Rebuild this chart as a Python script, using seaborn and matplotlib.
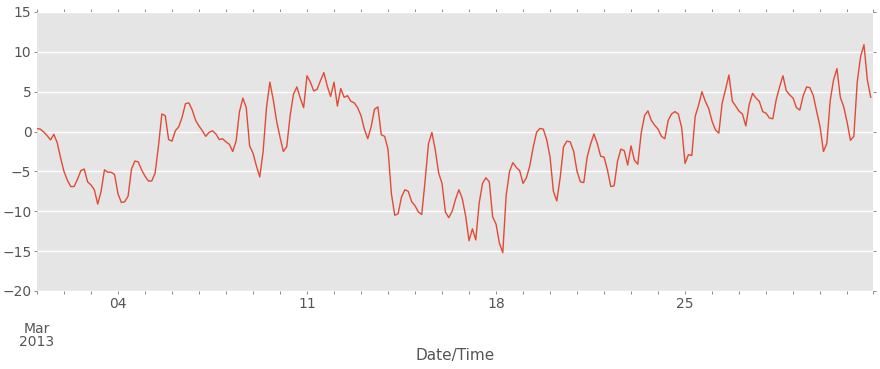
import pandas as pd
import matplotlib
matplotlib.use("Agg")
import matplotlib.pyplot as plt
import matplotlib.dates as mdates
import matplotlib.ticker as mticker
import seaborn as sns

# 3-hourly readings, 2013-03-01 00:00 onwards
start = "2013-03-01 00:00"
freq = "3h"
values = [
    0.38, 0.3, -0.05, -0.5, -1.05, -0.35, -1.4, -3.3, -5.0, -6.1,
    -6.9, -6.9, -6.0, -4.9, -4.7, -6.3, -6.7, -7.3, -9.1, -7.5,
    -4.8, -5.1, -5.1, -5.4, -7.8, -8.9, -8.8, -8.1, -4.7, -3.7,
    -3.8, -4.8, -5.6, -6.2, -6.2, -5.2, -1.8, 2.2, 2.0, -1.0,
    -1.2, 0.1, 0.6,
    1.8, 3.5, 3.6, 2.7, 1.4, 0.7, 0.1,
    -0.6, -0.1, 0.1, -0.3, -1.0, -0.9, -1.3, -1.6, -2.5, -1.2,
    2.5, 4.2, 3.0, -1.8, -2.7, -4.3, -5.7, -2.5, 3.0, 6.2,
    4.0, 1.3, -0.7, -2.5, -1.9, 2.0, 4.7, 5.6, 4.2, 3.0,
    7.0, 6.2, 5.1, 5.3, 6.4,
    7.4, 5.7, 4.4, 6.2, 3.2,
    5.4, 4.3, 4.5, 3.8, 3.6, 3.0, 2.0, 0.3, -0.9, 0.6,
    2.8, 3.1, -0.4, -0.6, -2.2, -7.8, -10.5, -10.3, -8.2, -7.3,
    -7.5, -8.8, -9.3, -10.1, -10.4, -6.1, -1.5, -0.1, -2.3, -5.2,
    -6.5, -10.1, -10.8, -10.0, -8.5, -7.3,
    -8.4, -10.6, -13.7, -12.2, -13.6, -9.0, -6.5, -5.8, -6.3, -10.7,
    -11.6, -14.0, -15.2, -8.0, -5.0, -3.9, -4.5, -4.9, -6.5, -5.8,
    -4.3, -2.0, -0.1, 0.4, 0.3, -1.0, -3.2, -7.5, -8.7, -5.8,
    -1.9, -1.2, -1.3, -2.5, -5.0, -6.3, -6.4, -3.2, -1.6, -0.3,
    -1.5,
    -3.1, -3.2, -4.8, -6.9, -6.8, -3.7, -2.2, -2.4, -4.2, -1.8,
    -3.6, -4.1, -0.2, 2.0, 2.6, 1.4, 0.8, 0.3, -0.6, -0.9,
    1.4, 2.2, 2.5, 2.2, 0.5, -4.0, -2.9, -3.0, 1.9, 3.3,
    5.0, 3.8, 2.9, 1.3, 0.2, -0.2, 3.6, 5.3, 7.1, 3.8,
    3.2,
    2.55, 2.2, 0.7, 3.4, 4.8, 4.2, 3.8, 2.5, 2.3, 1.7,
    1.6, 4.0, 5.6, 7.0, 5.1, 4.6, 4.2, 3.0, 2.7, 4.5,
    5.6, 5.5, 4.5, 2.5, 0.6, -2.5, -1.5, 3.9, 6.5, 7.9,
    4.3, 3.1, 1.2, -1.1, -0.6, 6.2, 9.4, 10.9, 6.5, 4.3,
]
end_time = "2013-03-31 23:00"

major_days = ["2013-03-01", "2013-03-04", "2013-03-11", "2013-03-18", "2013-03-25"]
major_labels = ["\n\nMar\n2013", "04", "11", "18", "25"]
y_ticks = [-20, -15, -10, -5, 0, 5, 10, 15]

times = pd.date_range(start, periods=len(values), freq=freq)
df = pd.DataFrame({"Date/Time": times, "value": values})

plt.style.use("ggplot")
plt.rcParams["font.family"] = ["DejaVu Sans"]

fig = plt.figure(figsize=(8.8, 3.69), dpi=100)
ax = fig.add_axes([0.042, 0.2114, 0.950, 0.7561])

sns.lineplot(data=df, x="Date/Time", y="value", ax=ax,
             color="#E24A33", linewidth=1.0)

ax.set_xlim(mdates.date2num(times[0]), mdates.date2num(pd.Timestamp(end_time)))
ax.set_ylim(-20, 15)
ax.set_yticks(y_ticks)
ax.set_ylabel("")
ax.set_xlabel("Date/Time", fontsize=11, color="#555555")
ax.xaxis.set_label_coords(0.5, -0.205)

# pandas-like date ticks: weekly majors, daily minors
ax.xaxis.set_major_locator(mticker.FixedLocator(mdates.date2num(pd.to_datetime(major_days))))
ax.xaxis.set_major_formatter(mticker.FixedFormatter(major_labels))
minor = list(pd.date_range(times[0], end_time, freq="D")) + [pd.Timestamp(end_time)]
ax.xaxis.set_minor_locator(mticker.FixedLocator(mdates.date2num(minor)))

ax.grid(axis="x", visible=False, which="both")
ax.grid(axis="y", color="white", linewidth=1.0)
ax.tick_params(which="both", direction="out", top=True, right=True,
               length=2.5, width=0.6, color="#777777", labelcolor="#555555",
               labelsize=10, pad=1.5)
for lbl in ax.get_xticklabels():
    lbl.set_linespacing(0.9)
for s in ax.spines.values():
    s.set_visible(False)

fig.savefig("out.png", dpi=100)
